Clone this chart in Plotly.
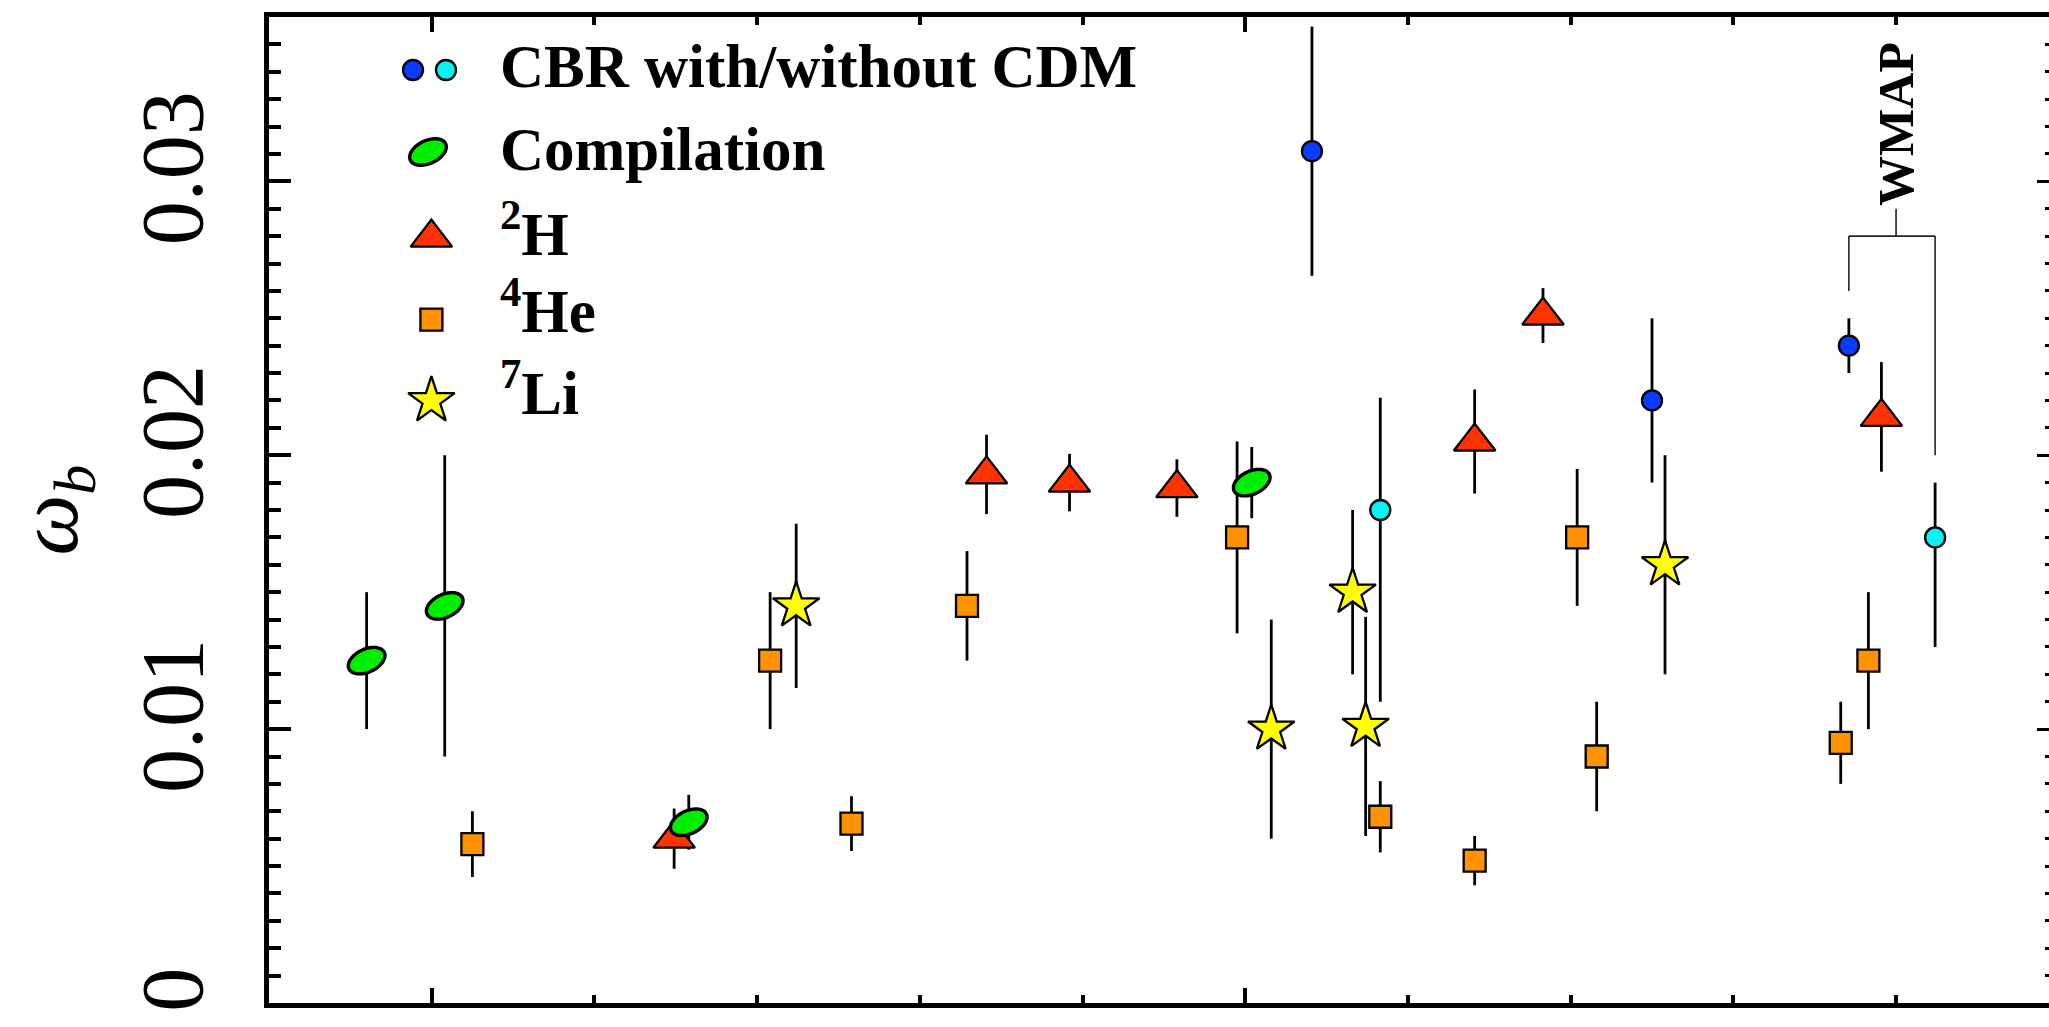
import numpy as np
import plotly.graph_objects as go

# ---------------- data ----------------
cbr_cdm_x = [6.41, 8.50, 9.71]
cbr_cdm_y = [0.0311, 0.0220, 0.0240]
cbr_cdm_err = [0.00455, 0.0030, 0.0010]

cbr_nocdm_x = [6.83, 10.24]
cbr_nocdm_y = [0.0180, 0.0170]
cbr_nocdm_plus = [0.0041, 0.0020]
cbr_nocdm_minus = [0.0070, 0.0040]

comp_x = [0.60, 1.08, 2.58, 6.04]
comp_y = [0.0125, 0.0145, 0.0066, 0.0190]
comp_err = [0.0025, 0.0055, 0.0010, 0.0013]

h2_x = [2.49, 4.41, 4.92, 5.58, 7.41, 7.83, 9.91]
h2_y = [0.0060, 0.0193, 0.0190, 0.0188, 0.0205, 0.0251, 0.0214]
h2_err = [0.0011, 0.00145, 0.00105, 0.00105, 0.0019, 0.0010, 0.0020]

he4_x = [1.25, 3.08, 3.58, 4.29, 5.95, 6.83, 7.41, 8.04, 8.16, 9.66, 9.83]
he4_y = [0.0058, 0.0125, 0.00655, 0.0145, 0.0170, 0.0068, 0.0052, 0.0170, 0.0090, 0.0095, 0.0125]
he4_err = [0.0012, 0.0025, 0.0010, 0.0020, 0.0035, 0.0013, 0.0009, 0.0025, 0.0020, 0.0015, 0.0025]

li7_x = [3.24, 6.16, 6.66, 6.74, 8.58]
li7_y = [0.0145, 0.0100, 0.0150, 0.0101, 0.0160]
li7_err = [0.0030, 0.0040, 0.0030, 0.0040, 0.0040]

y_tick_vals = [0, 0.01, 0.02, 0.03]
y_tick_text = ["0", "0.01", "0.02", "0.03"]

legend_labels = ["CBR with/without CDM", "Compilation", "<sup>2</sup>H",
                 "<sup>4</sup>He", "<sup>7</sup>Li"]

# ---------------- styles ----------------
BLUE = "#0a3cff"
CYAN = "#00f6f6"
GREEN = "#00ee00"
RED = "#ff3300"
ORANGE = "#ff9200"
YELLOW = "#ffff00"
FONT = "Liberation Serif"

W, H = 2049, 1027
ML, MR, MT, MB = 269, 0, 17, 24
XR = [0, 10.94]
YR = [0, 0.036]

def px2paper(xp, yp):
    return (xp - ML) / (W - ML - MR), (H - MB - yp) / (H - MT - MB)

def ellipse_path(a, b, ang_deg, n=60):
    t = np.linspace(0, 2 * np.pi, n, endpoint=False)
    th = np.deg2rad(ang_deg)
    xs = a * np.cos(t) * np.cos(th) - b * np.sin(t) * np.sin(th)
    ys = a * np.cos(t) * np.sin(th) + b * np.sin(t) * np.cos(th)
    pts = [f"{x:.2f},{y:.2f}" for x, y in zip(xs, ys)]
    return "M" + " L".join(pts) + " Z"

ELL = ellipse_path(19.5, 11.5, 25)

def err(arr, minus=None, thick=2.8):
    d = dict(type="data", array=arr, color="black", thickness=thick, width=0, visible=True)
    if minus is not None:
        d["symmetric"] = False
        d["arrayminus"] = minus
    return d

mline = dict(color="black", width=2.3)

fig = go.Figure()

# compilation (error bars only; ellipses drawn as shapes)
fig.add_trace(go.Scatter(x=comp_x, y=comp_y, mode="markers",
                         marker=dict(size=2, color=GREEN),
                         error_y=err(comp_err), showlegend=False))
fig.add_trace(go.Scatter(x=h2_x, y=h2_y, mode="markers",
                         marker=dict(symbol="triangle-up", size=36, color=RED, line=mline),
                         error_y=err(h2_err), showlegend=False))
fig.add_trace(go.Scatter(x=he4_x, y=he4_y, mode="markers",
                         marker=dict(symbol="square", size=22, color=ORANGE, line=mline),
                         error_y=err(he4_err), showlegend=False))
fig.add_trace(go.Scatter(x=cbr_cdm_x, y=cbr_cdm_y, mode="markers",
                         marker=dict(symbol="circle", size=20, color=BLUE, line=mline),
                         error_y=err(cbr_cdm_err), showlegend=False))
fig.add_trace(go.Scatter(x=cbr_nocdm_x, y=cbr_nocdm_y, mode="markers",
                         marker=dict(symbol="circle", size=20, color=CYAN, line=mline),
                         error_y=err(cbr_nocdm_plus, cbr_nocdm_minus), showlegend=False))
fig.add_trace(go.Scatter(x=li7_x, y=li7_y, mode="markers",
                         marker=dict(symbol="star", size=35, color=YELLOW, line=mline),
                         error_y=err(li7_err), showlegend=False))

# dummy trace to activate right-hand tick axis
fig.add_trace(go.Scatter(x=[None], y=[None], yaxis="y2", showlegend=False, hoverinfo="skip"))

# ellipses for compilation points
for xv, yv in zip(comp_x, comp_y):
    fig.add_shape(type="path", xref="x", yref="y", xsizemode="pixel", ysizemode="pixel",
                  xanchor=xv, yanchor=yv, path=ELL, fillcolor=GREEN,
                  line=dict(color="black", width=3.4), layer="above")

# ---------------- manual legend ----------------
leg_marker_px = [
    ("circle", BLUE, 20, 413.0, 70.0),
    ("circle", CYAN, 20, 446.0, 70.0),
    ("triangle-up", RED, 36, 431.4, 237.6),
    ("square", ORANGE, 22, 431.4, 319.7),
    ("star", YELLOW, 35, 431.4, 400.7),
]
for sym, col, sz, xp, yp in leg_marker_px:
    fx, fy = px2paper(xp, yp)
    fig.add_trace(go.Scatter(x=[fx], y=[fy], xaxis="x3", yaxis="y3", mode="markers",
                             marker=dict(symbol=sym, size=sz, color=col, line=mline),
                             showlegend=False, hoverinfo="skip"))
ex, ey = px2paper(428, 152)
fig.add_shape(type="path", xref="paper", yref="paper", xsizemode="pixel", ysizemode="pixel",
              xanchor=ex, yanchor=ey, path=ELL, fillcolor=GREEN,
              line=dict(color="black", width=3.4), layer="above")

leg_text_px_y = [66, 149, 229, 306, 388]
for lab, yp in zip(legend_labels, leg_text_px_y):
    fx, fy = px2paper(498, yp)
    fig.add_annotation(text=f"<b>{lab}</b>", xref="paper", yref="paper", x=fx, y=fy,
                       xanchor="left", yanchor="middle", showarrow=False,
                       font=dict(family=FONT, size=61, color="black"))

# ---------------- WMAP bracket ----------------
WMAP_X = 10.0
bx_left, bx_right = cbr_cdm_x[2], cbr_nocdm_x[1]
bar_y = 0.0280
stem_top = 0.0290
leg_gap = 0.0010
left_end = cbr_cdm_y[2] + cbr_cdm_err[2] + leg_gap
right_end = cbr_nocdm_y[1] + cbr_nocdm_plus[1] + leg_gap
bl = dict(color="#222222", width=1.6)
fig.add_shape(type="line", x0=WMAP_X, x1=WMAP_X, y0=bar_y, y1=stem_top, xref="x", yref="y", line=bl)
fig.add_shape(type="line", x0=bx_left, x1=bx_right, y0=bar_y, y1=bar_y, xref="x", yref="y", line=bl)
fig.add_shape(type="line", x0=bx_left, x1=bx_left, y0=bar_y, y1=left_end, xref="x", yref="y", line=bl)
fig.add_shape(type="line", x0=bx_right, x1=bx_right, y0=bar_y, y1=right_end, xref="x", yref="y", line=bl)
fig.add_annotation(text="<b>WMAP</b>", x=WMAP_X, y=0.0321, xref="x", yref="y",
                   textangle=-90, showarrow=False, xanchor="center", yanchor="middle",
                   font=dict(family=FONT, size=50, color="black"))

# ---------------- layout ----------------
fig.update_layout(
    width=W, height=H,
    margin=dict(l=ML, r=MR, t=MT, b=MB, pad=0),
    paper_bgcolor="white", plot_bgcolor="white",
    showlegend=False,
    xaxis=dict(range=XR, showline=True, linewidth=4.5, linecolor="black", mirror="ticks",
               ticks="inside", tickmode="linear", tick0=1, dtick=5, ticklen=15, tickwidth=3.5,
               tickcolor="black", showticklabels=False, showgrid=False, zeroline=False,
               minor=dict(tickmode="linear", tick0=0, dtick=1, ticks="inside", ticklen=8,
                          tickwidth=3.5, tickcolor="black", showgrid=False)),
    yaxis=dict(range=YR, showline=True, linewidth=4.5, linecolor="black", mirror=False,
               ticks="inside", tickmode="array", tickvals=y_tick_vals, ticktext=y_tick_text,
               ticklen=22, tickwidth=3.5, tickcolor="black", tickangle=-90,
               tickfont=dict(family=FONT, size=88, color="black"), ticklabelstandoff=27,
               showgrid=False, zeroline=False,
               minor=dict(tickmode="linear", tick0=0, dtick=0.001, ticks="inside", ticklen=12,
                          tickwidth=3.5, tickcolor="black", showgrid=False),
               title=dict(text="<i>ω</i><sub><i>b</i></sub>",
                          font=dict(family=FONT, size=86, color="black"), standoff=52)),
    yaxis2=dict(range=YR, overlaying="y", side="right", anchor="x", showline=False,
                ticks="inside", tickmode="linear", tick0=0, dtick=0.01, ticklen=12, tickwidth=3,
                tickcolor="black", showticklabels=False, showgrid=False, zeroline=False,
                minor=dict(tickmode="linear", tick0=0, dtick=0.001, ticks="inside", ticklen=4,
                           tickwidth=3, tickcolor="black", showgrid=False)),
    xaxis3=dict(range=[0, 1], overlaying="x", visible=False, fixedrange=True),
    yaxis3=dict(range=[0, 1], overlaying="y", visible=False, fixedrange=True),
)

fig.write_html("out.html",
               config={"displayModeBar": False},
               post_script="document.body.style.margin='0px';document.body.style.overflow='hidden';")
